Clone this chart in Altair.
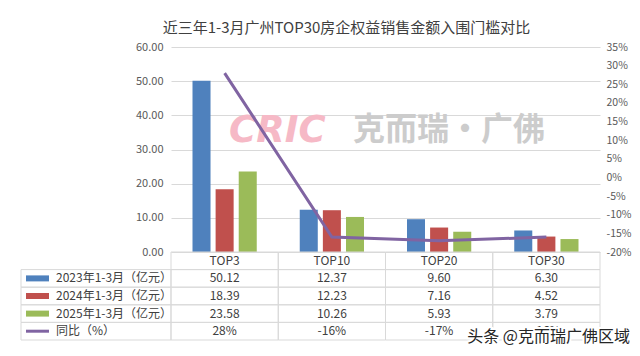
import altair as alt
import pandas as pd

# ---------------- data ----------------
title_text = "近三年1-3月广州TOP30房企权益销售金额入围门槛对比"
categories = ["TOP3", "TOP10", "TOP20", "TOP30"]
series_names = ["2023年1-3月（亿元）", "2024年1-3月（亿元）", "2025年1-3月（亿元）"]
v2023 = [50.12, 12.37, 9.60, 6.30]
v2024 = [18.39, 12.23, 7.16, 4.52]
v2025 = [23.58, 10.26, 5.93, 3.79]
yoy_name = "同比（%）"
yoy_pct = [28, -16, -17, -16]
left_ticks = [0, 10, 20, 30, 40, 50, 60]
right_ticks = [-20, -15, -10, -5, 0, 5, 10, 15, 20, 25, 30, 35]
bar_colors = ["#4f81bd", "#c0504d", "#9bbb59"]
line_color = "#8064a2"
wm_cric = "CRIC"
wm_cn = "克而瑞·广佛"
wm_bottom = "头条 @克而瑞广佛区域"

FONT = "Noto Sans CJK SC"
TXT = "#404040"
GRID = "#d9d9d9"

# ---------------- tables built from the arrays ----------------
series_vals = [v2023, v2024, v2025]
bar_rows = []
for s, vals in zip(series_names, series_vals):
    for c, v in zip(categories, vals):
        bar_rows.append({"cat": c, "series": s, "value": v})
bar_df = pd.DataFrame(bar_rows)

line_df = pd.DataFrame({"cat": categories, "pct": yoy_pct, "idx": list(range(len(categories)))})

row_keys = ["hdr", "s0", "s1", "s2", "yoy"]
cell_rows = []
for i, c in enumerate(categories):
    cell_rows.append({"cat": c, "row": "hdr", "label": c})
    for k, vals in enumerate(series_vals):
        cell_rows.append({"cat": c, "row": f"s{k}", "label": f"{vals[i]:.2f}"})
    cell_rows.append({"cat": c, "row": "yoy", "label": f"{yoy_pct[i]}%"})
cell_df = pd.DataFrame(cell_rows)

legend_df = pd.DataFrame({
    "row": ["s0", "s1", "s2", "yoy"],
    "label": series_names + [yoy_name],
    "color": bar_colors + [line_color],
    "sw": [6, 6, 6, 3],
})

# ---------------- scales ----------------
x_scale = alt.Scale(domain=categories, paddingInner=0, paddingOuter=0)
row_scale = alt.Scale(domain=row_keys, range=[205, 293], paddingInner=0, paddingOuter=0)
X = alt.X("cat:N", scale=x_scale, axis=None)
ROW = alt.Y("row:N", scale=row_scale, axis=None)

bars = alt.Chart(bar_df).mark_bar().encode(
    x=X,
    xOffset=alt.XOffset("series:N", scale=alt.Scale(domain=series_names, paddingInner=0.22, paddingOuter=0.93)),
    y=alt.Y("value:Q", scale=alt.Scale(domain=[0, 60], range=[205, 0]),
            axis=alt.Axis(orient="left", values=left_ticks, format=".2f", title=None,
                          grid=True, gridColor=GRID, domain=False, ticks=False,
                          labelPadding=8, labelFontSize=11, labelColor="#595959", labelFont=FONT)),
    color=alt.Color("series:N", scale=alt.Scale(domain=series_names, range=bar_colors), legend=None),
)

line = alt.Chart(line_df).mark_line(color=line_color, strokeWidth=3).encode(
    x=X,
    order=alt.Order("idx:Q"),
    y=alt.Y("pct:Q", scale=alt.Scale(domain=[-20, 35], range=[205, 0]),
            axis=alt.Axis(orient="right", values=right_ticks, labelExpr="datum.value + '%'", title=None,
                          grid=False, domain=False, ticks=False,
                          labelPadding=6, labelFontSize=10.5, labelColor="#595959", labelFont=FONT)),
)

one = pd.DataFrame({"t": [0]})
wm1 = alt.Chart(one).mark_text(text=wm_cric, font="DejaVu Sans", fontSize=37, fontWeight="bold",
                                fontStyle="italic", color="#f6b9c6", align="left", baseline="middle").encode(
    x=alt.value(58), y=alt.value(84))
wm2 = alt.Chart(one).mark_text(text=wm_cn, font=FONT, fontSize=32, fontWeight="bold",
                                color="#cccccc", align="left", baseline="middle").encode(
    x=alt.value(182), y=alt.value(83))

cells = alt.Chart(cell_df).mark_rect(fill="white", fillOpacity=0, stroke=GRID, strokeWidth=1).encode(x=X, y=ROW)
cell_txt = alt.Chart(cell_df).mark_text(font=FONT, fontSize=12, color=TXT).encode(x=X, y=ROW, text="label:N")
leg_cells = alt.Chart(legend_df).mark_rect(fill="white", fillOpacity=0, stroke=GRID, strokeWidth=1).encode(
    x=alt.value(-150), x2=alt.value(0), y=ROW)
leg_sw = alt.Chart(legend_df).mark_rule(strokeCap="butt").encode(
    x=alt.value(-145), x2=alt.value(-122), y=ROW,
    color=alt.Color("color:N", scale=None), size=alt.Size("sw:Q", scale=None))
leg_txt = alt.Chart(legend_df).mark_text(font=FONT, fontSize=12, color=TXT, align="left").encode(
    x=alt.value(-115), y=ROW, text="label:N")
table = alt.layer(cells, leg_cells, cell_txt, leg_sw, leg_txt)

wm3a = alt.Chart(one).mark_text(text=wm_bottom, font=FONT, fontSize=16, color="white", stroke="white",
                                 strokeWidth=4, align="right", baseline="middle").encode(
    x=alt.value(459), y=alt.value(290))
wm3b = alt.Chart(one).mark_text(text=wm_bottom, font=FONT, fontSize=16, color="#262626",
                                 align="right", baseline="middle").encode(
    x=alt.value(459), y=alt.value(290))

chart = alt.layer(bars, wm1, wm2, line, table, wm3a, wm3b).resolve_scale(y="independent").properties(
    width=429, height=293,
    title=alt.Title(title_text, fontSize=15, color=TXT, fontWeight="normal", font=FONT,
                    anchor="middle", frame="group", dx=-39, offset=5),
    autosize=alt.AutoSizeParams(type="none"),
    padding={"left": 163, "top": 39, "right": 32, "bottom": 8},
).configure(font=FONT).configure_view(stroke=None)

chart.save("out.html", embed_options={"renderer": "svg", "actions": False})
